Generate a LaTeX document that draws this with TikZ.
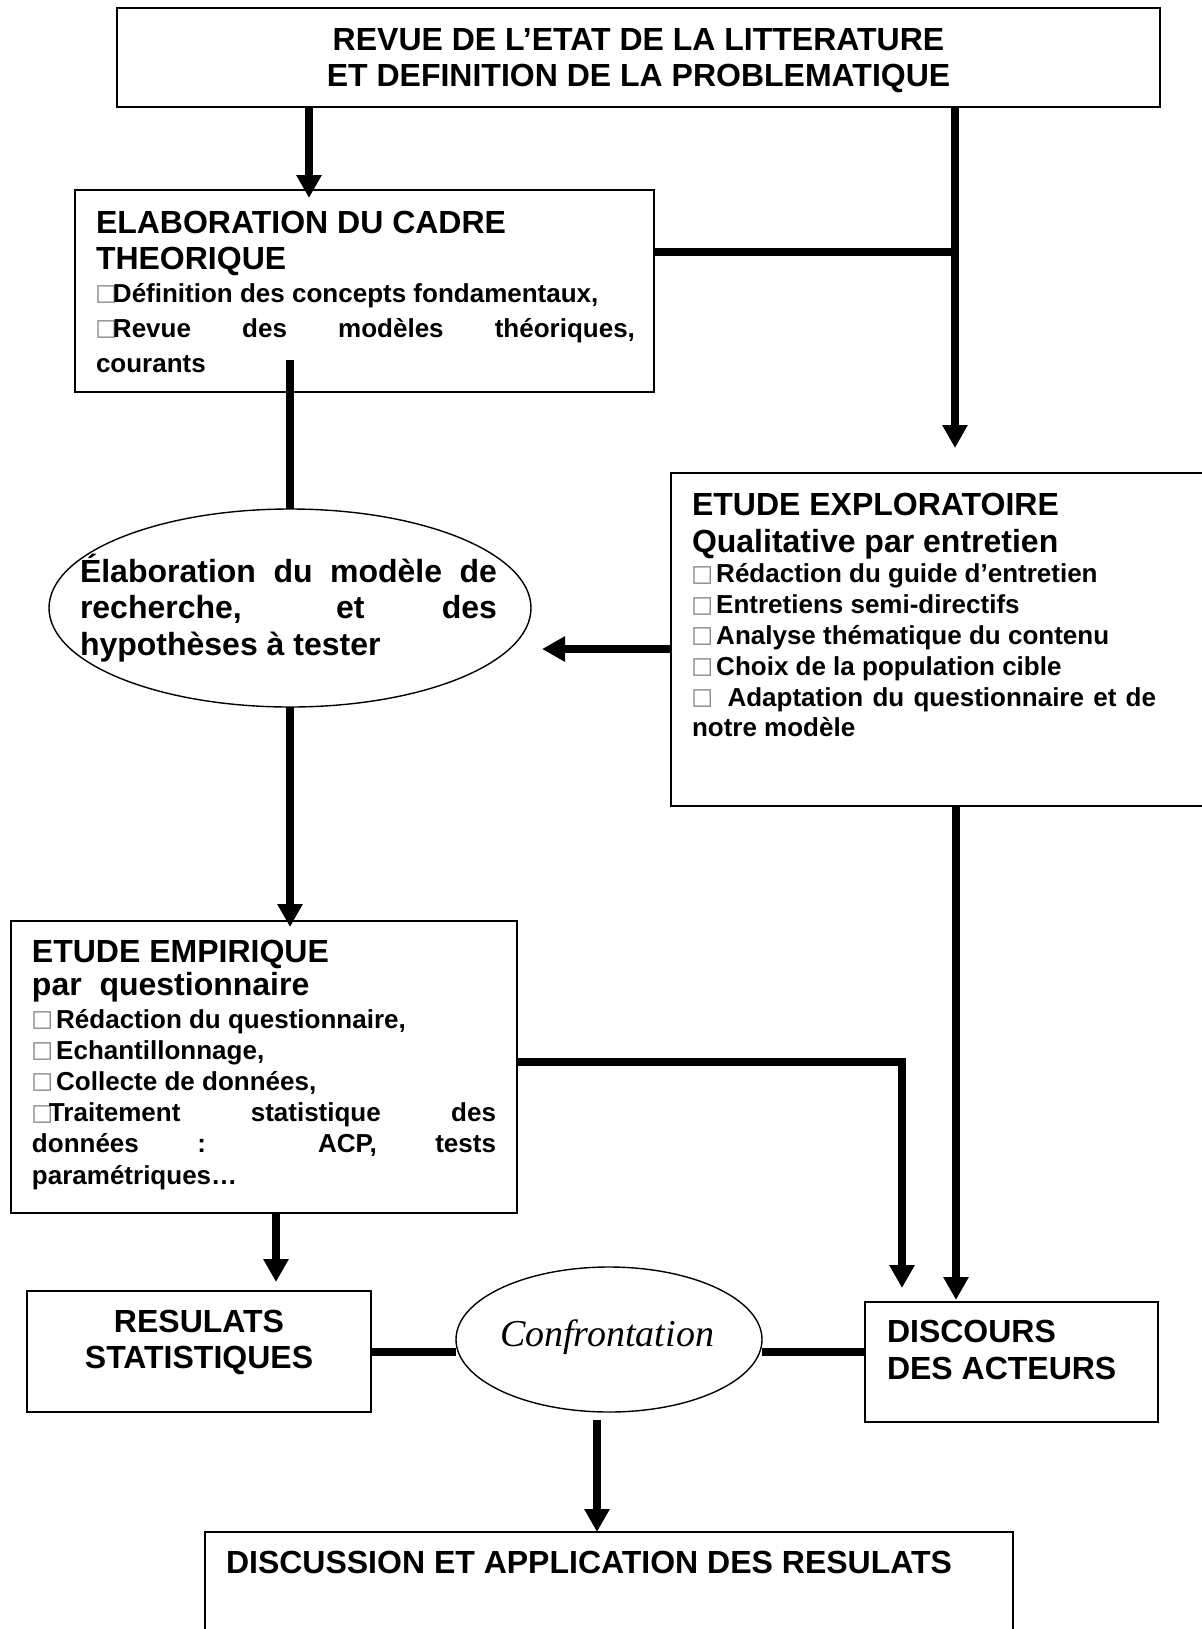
\documentclass[tikz,border=0pt]{standalone}
\usepackage{fontspec}
\setmainfont{Liberation Sans}
\newfontfamily\serifit{Liberation Serif}
\newfontfamily\symfont{DejaVu Sans}
\usetikzlibrary{arrows.meta,shapes.geometric,calc}
\newdimen\px \px=0.5pt
\newcommand{\bx}{\makebox[8.5pt][l]{\hspace*{-0.3pt}\raisebox{0.8pt}{\textcolor{black!50}{\symfont\mdseries\fontsize{11.5}{11.5}\selectfont □}}}}
\newcommand{\tbox}[2]{\parbox[t]{#1}{\tolerance=10000\hyphenpenalty=10000\bfseries #2}}
\tikzset{
  box/.style={draw, line width=0.9pt, rectangle, inner sep=0pt, outer sep=0pt},
  oval/.style={draw, line width=0.7pt, ellipse, inner sep=0pt, outer sep=0pt},
  txt/.style={inner sep=0pt, outer sep=0pt},
  conn/.style={line width=3.6pt},
  wide/.style={line width=4.2pt},
  arr/.style={conn, -{Triangle[width=12pt,length=11.5pt]}},
}
\begin{document}
\begin{tikzpicture}[x=0.5pt,y=-0.5pt]
\fill[white] (0,0) rectangle (1201,1629);
\useasboundingbox (0,0) rectangle (1201,1629);

% shapes
\node[box, minimum width=521.5pt, minimum height=49.5pt] (top) at (638.5,57.5) {};
\node[box, minimum width=289.5pt, minimum height=101pt] (elab) at (364.5,291) {};
\node[oval, minimum width=241pt, minimum height=99pt] (hyp) at (290,608) {};
\node[box, minimum width=269.5pt, minimum height=166.5pt] (explo) at (940.5,639.5) {};
\node[box, minimum width=253pt, minimum height=146pt] (emp) at (264,1067) {};
\node[box, minimum width=172pt, minimum height=60.5pt] (res) at (199,1351.5) {};
\node[oval, minimum width=153pt, minimum height=72.5pt] (conf) at (609,1339.5) {};
\node[box, minimum width=146.5pt, minimum height=60pt] (disc) at (1011.5,1362) {};
\node[box, minimum width=404pt, minimum height=59pt] (discu) at (609,1591) {};

% texts
\node[txt, anchor=base] (toptxt) at (638.5,50) {\tbox{1000\px}{\centering\fontsize{16}{18}\selectfont REVUE DE L’ETAT DE LA LITTERATURE\\ET DEFINITION DE LA PROBLEMATIQUE}};

\node[txt, anchor=base west] (elabtxt) at (96,233) {\tbox{539\px}{%
{\fontsize{16}{18}\selectfont ELABORATION DU CADRE\newline THEORIQUE\par}
\vspace{-1pt}
{\fontsize{13}{17.5}\selectfont \bx Définition des concepts fondamentaux,\par
\bx Revue des modèles théoriques,\linebreak courants\par}}};

\node[txt, anchor=base west] (hyptxt) at (80,582) {\tbox{417\px}{%
{\fontsize{16}{18.25}\selectfont Élaboration du modèle de\linebreak recherche, et des\linebreak hypothèses à tester\par}}};

\node[txt, anchor=base west] (explotxt) at (692,515) {\tbox{464\px}{%
{\fontsize{16}{18.5}\selectfont ETUDE EXPLORATOIRE\newline Qualitative par entretien\par}
{\fontsize{13}{15.4}\selectfont \bx\ Rédaction du guide d’entretien\par
\bx\ Entretiens semi-directifs\par
\bx\ Analyse thématique du contenu\par
\bx\ Choix de la population cible\par
\bx\ \ Adaptation du questionnaire et de\linebreak notre modèle\par}}};

\node[txt, anchor=base west] (emptxt) at (32,962) {\tbox{464\px}{%
{\fontsize{16}{16.5}\selectfont ETUDE EMPIRIQUE\newline par\ \ questionnaire\par}
\vspace{0.9pt}
{\fontsize{13}{15.6}\selectfont \bx\ Rédaction du questionnaire,\par
\bx\ Echantillonnage,\par
\bx\ Collecte de données,\par
\bx Traitement statistique des\linebreak données : ACP, tests\linebreak paramétriques…\par}}};

\node[txt, anchor=base] (restxt) at (199,1332) {\tbox{340\px}{\centering\fontsize{16}{18}\selectfont RESULATS\\STATISTIQUES}};
\node[txt, anchor=base west] (disctxt) at (887,1342) {\tbox{260\px}{\raggedright\fontsize{16}{18.5}\selectfont DISCOURS\\DES ACTEURS}};
\node[txt, anchor=base] (conftxt) at (607,1346) {\serifit\itshape\fontsize{19}{19}\selectfont Confrontation};
\node[txt, anchor=base west] (discutxt) at (226,1573) {\bfseries\fontsize{16}{18}\selectfont DISCUSSION ET APPLICATION DES RESULATS};

% helper coordinates
\coordinate (xA) at (309,0);
\coordinate (xB) at (955,0);
\coordinate (yB) at (0,252);
\coordinate (c3) at (290,360);
\coordinate (t4) at (542,649);
\coordinate (j6) at (902,1062);
\coordinate (x7) at (956,0);
\coordinate (x8) at (276,0);
\coordinate (y9) at (0,1352);
\coordinate (s10) at (597,1420);

% connectors
\draw[arr, shorten >=-4pt] (top.south -| xA) -- (elab.north -| xA);
\draw[arr, shorten >=12.5pt] (top.south -| xB) -- (explo.north -| xB);
\draw[conn] (elab.east |- yB) -- (xB |- yB);
\draw[conn] (c3) -- (hyp.north);
\draw[arr] (explo.west |- t4) -- (t4);
\draw[arr, shorten >=-3pt] (hyp.south) -- (emp.north -| hyp.south);
\draw[arr, shorten >=7pt] (emp.east |- j6) -- (j6) -- (disc.north -| j6);
\draw[arr, shorten >=1pt] (explo.south -| x7) -- (disc.north -| x7);
\draw[arr, shorten >=4.5pt] (emp.south -| x8) -- (res.north -| x8);
\draw[wide] (res.east |- y9) -- (conf.west |- y9);
\draw[wide] (conf.east |- y9) -- (disc.west |- y9);
\draw[arr] (s10) -- (discu.north -| s10);
\end{tikzpicture}
\end{document}
